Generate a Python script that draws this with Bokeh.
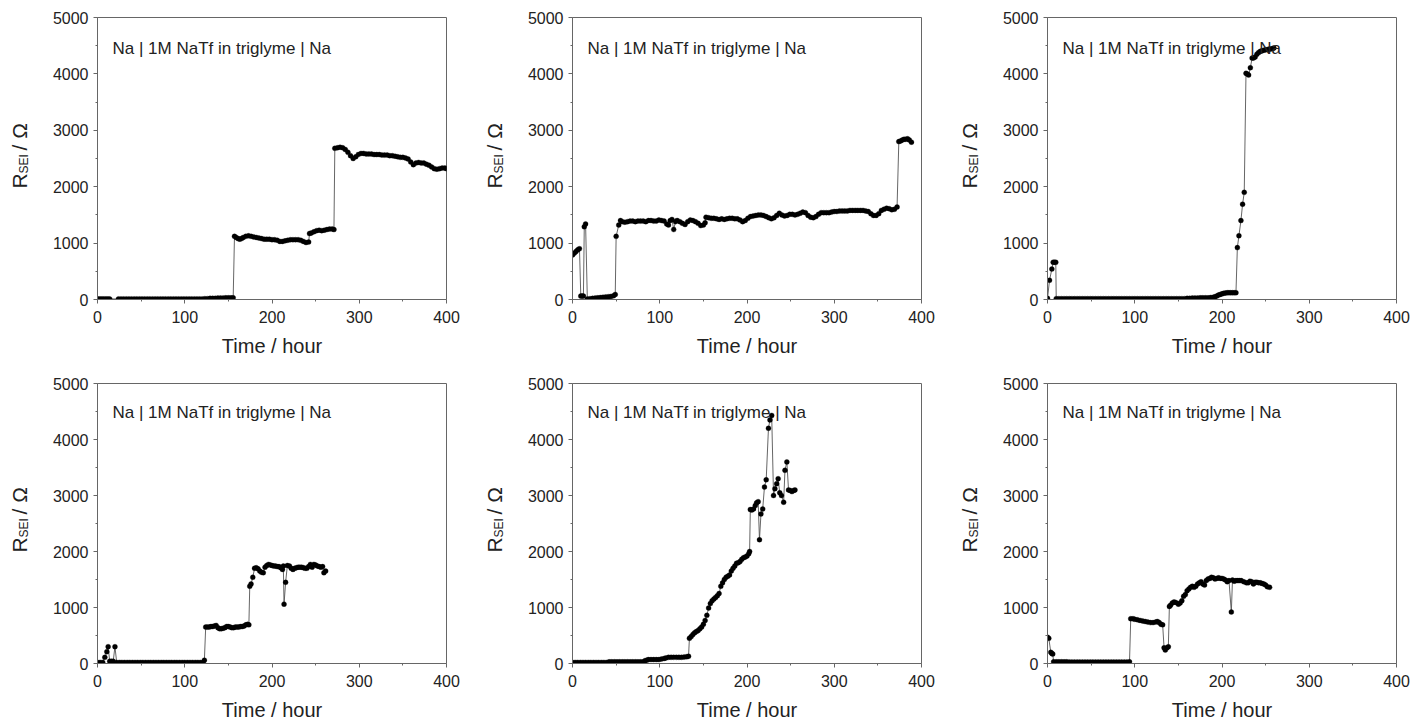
import math
from bokeh.plotting import figure
from bokeh.models import Range1d, Label, FixedTicker
from bokeh.layouts import row, column
from bokeh.embed import file_html
from bokeh.resources import INLINE

X_TICKS = [0, 100, 200, 300, 400]
X_MINOR = [50, 150, 250, 350]
Y_TICKS = [0, 1000, 2000, 3000, 4000, 5000]
Y_MINOR = [500, 1500, 2500, 3500, 4500]
ANNOT = "Na | 1M NaTf in triglyme | Na"
XLABEL = "Time / hour"
YLABEL_MAIN = "R"
YLABEL_SUB = "SEI"
YLABEL_UNIT = "/ Ω"

# (time / hour, R_SEI / ohm)
s1 = [(0,10),(2,10),(4,10),(6,10),(8,10),(10,10),(12,10),(14,10),
      (24,10),(27,10),(30,10),(33,10),(36,10),(39,10),(42,10),(45,10),(48,10),(51,10),(54,10),(57,10),
      (60,10),(63,10),(66,10),(69,10),(72,10),(75,10),(78,10),(81,10),(84,10),(87,10),(90,10),(93,10),
      (96,10),(99,10),(102,10),(105,10),(108,10),(111,10),(114,10),(117,10),(120,10),(123,15),(126,15),
      (129,20),(132,20),(135,20),(138,25),(141,25),(144,25),(147,30),(150,30),(153,30),(155.5,30),
      (157,1120),(159,1100),(161,1080),(163,1070),(165,1080),(167,1100),(170,1120),(173,1130),(176,1120),
      (179,1110),(182,1100),(185,1090),(188,1080),(191,1070),(194,1070),(197,1070),(200,1060),(203,1060),
      (206,1050),(209,1030),(212,1030),(215,1040),(218,1050),(221,1060),(224,1060),(227,1060),(230,1060),
      (233,1050),(236,1030),(239,1010),(242,1020),
      (243,1170),(245,1180),(248,1200),(251,1220),(254,1230),(257,1220),(260,1230),(263,1240),(266,1250),
      (269,1250),(271,1240),
      (272,2680),(275,2690),(278,2700),(281,2690),(284,2660),(287,2610),(290,2550),(293,2500),(296,2530),
      (299,2570),(302,2590),(305,2590),(308,2580),(311,2580),(314,2580),(317,2570),(320,2570),(323,2570),
      (326,2560),(329,2560),(332,2560),(335,2550),(338,2550),(341,2540),(344,2530),(347,2520),(350,2520),
      (353,2510),(356,2490),(359,2440),(362,2390),(365,2420),(368,2430),(371,2420),(374,2420),(377,2400),
      (380,2380),(383,2350),(386,2320),(389,2310),(392,2320),(395,2330),(398,2330),(400,2320)]

s2 = [(0,790),(2,820),(4,850),(6,880),(8,900),(9.5,60),(11,60),(12.5,60),(13.5,1290),(15,1340),
      (17,10),(20,15),(23,20),(26,25),(29,30),(32,35),(35,40),(38,45),(41,50),(44,55),(47,65),(49,90),
      (50,1120),(53,1320),(55,1400),(57,1380),(60,1370),(63,1380),(66,1390),(69,1390),(72,1380),(75,1390),
      (78,1390),(81,1390),(84,1380),(87,1400),(90,1400),(93,1390),(96,1390),(99,1410),(102,1400),(105,1390),
      (108,1340),(110,1320),(112,1400),(114,1420),(116,1240),(118,1380),(120,1400),(123,1380),(126,1350),
      (129,1330),(132,1380),(135,1410),(138,1400),(141,1380),(144,1350),(147,1310),(150,1320),(152,1360),
      (153,1460),(156,1450),(159,1440),(162,1440),(165,1430),(168,1420),(171,1430),(174,1420),(177,1430),
      (180,1440),(183,1440),(186,1430),(189,1430),(192,1410),(195,1380),(198,1400),(201,1440),(204,1470),
      (207,1480),(210,1490),(213,1500),(216,1500),(219,1490),(222,1470),(225,1450),(228,1430),(231,1450),
      (234,1490),(237,1530),(240,1500),(243,1480),(246,1490),(249,1510),(252,1510),(255,1500),(258,1510),
      (261,1530),(264,1550),(267,1540),(270,1490),(273,1460),(276,1450),(279,1470),(282,1510),(285,1540),
      (288,1540),(291,1540),(294,1540),(297,1550),(300,1560),(303,1560),(306,1570),(309,1570),(312,1570),
      (315,1570),(318,1580),(321,1580),(324,1580),(327,1580),(330,1580),(333,1580),(336,1570),(339,1560),
      (342,1520),(345,1490),(348,1490),(351,1520),(354,1580),(357,1600),(360,1620),(363,1610),(366,1590),
      (369,1600),(372,1640),
      (374,2800),(376,2810),(378,2830),(380,2840),(382,2840),(384,2850),(386,2830),(388.5,2790)]

s3 = [(0,20),(2.3,340),(5,540),(6.5,660),(8,660),(9.5,660),
      (10,15),(13,15),(16,15),(19,15),(22,15),(25,15),(28,15),(31,15),(34,15),(37,15),(40,15),(43,15),
      (46,15),(49,15),(52,15),(55,15),(58,15),(61,15),(64,15),(67,15),(70,15),(73,15),(76,15),(79,15),
      (82,15),(85,15),(88,15),(91,15),(94,15),(97,15),(100,15),(103,15),(106,15),(109,15),(112,15),(115,15),
      (118,15),(121,15),(124,15),(127,15),(130,15),(133,15),(136,15),(139,15),(142,15),(145,15),(148,15),
      (151,15),(154,15),(157,15),(160,20),(163,20),(166,25),(169,25),(172,25),(175,30),(178,30),(181,30),
      (184,30),(187,35),(190,40),
      (192,50),(194,60),(196,80),(198,90),(200,100),(202,110),(204,115),(206,120),(208,120),(210,120),
      (212,120),(214,120),(216,120),
      (217.6,920),(219.4,1130),(221.7,1400),(223.6,1690),(225.5,1900),
      (227.5,4010),(229,4000),(230.5,3980),(232.5,4110),(234.5,4280),(236,4280),(238,4300),(240,4350),
      (242,4380),(244,4400),(246,4410),(248,4420),(250,4430),(252,4430),(254,4440),(256,4440),(258,4450),
      (259.5,4460)]

s4 = [(0,20),(3,20),(6,20),(8.4,110),(10.7,210),(12.2,300),(14,40),(16,40),(18,40),(20,300),
      (22,20),(25,20),(28,20),(31,20),(34,20),(37,20),(40,20),(43,20),(46,20),(49,20),(52,20),(55,20),
      (58,20),(61,20),(64,20),(67,20),(70,20),(73,20),(76,20),(79,20),(82,20),(85,20),(88,20),(91,20),
      (94,20),(97,20),(100,20),(103,20),(106,20),(109,20),(112,20),(115,20),(118,20),(121,20),(122.5,60),
      (124,650),(126,650),(128,650),(130,660),(132,660),(134,670),(136,680),(138,640),(140,620),(142,620),
      (144,630),(146,640),(148,660),(150,660),(152,650),(154,640),(156,640),(158,650),(160,650),(162,650),
      (164,660),(166,660),(168,670),(170,690),(172,700),(173.5,690),
      (174.5,1380),(176,1420),(178,1540),(180,1700),(182,1710),(184,1690),(186,1650),(188,1630),(190,1620),
      (192,1720),(194,1750),(196,1770),(198,1760),(200,1750),(202,1740),(204,1740),(206,1730),(208,1730),
      (210,1710),(212,1680),(213,1740),(213.8,1060),(215.6,1450),(217.6,1750),(220,1740),(222,1700),
      (224,1680),(226,1700),(228,1710),(230,1720),(232,1720),(234,1720),(236,1710),(238,1700),(240,1700),
      (242,1730),(244,1770),(246,1720),(248,1770),(250,1760),(252,1740),(254,1730),(256,1720),(258,1730),
      (259.5,1620),(261.5,1650)]

s5 = [(0,20),(3,20),(6,20),(9,20),(12,20),(15,20),(18,20),(21,20),(24,20),(27,20),(30,20),(33,20),
      (36,20),(39,20),(42,30),(45,30),(48,30),(51,30),(54,30),(57,30),(60,30),(63,30),(66,30),(69,30),
      (72,30),(75,30),(78,30),(81,30),
      (83,50),(85,60),(87,70),(90,70),(93,70),(96,70),(99,70),(102,80),(105,90),(107,100),(110,110),
      (113,110),(116,110),(119,110),(122,110),(125,110),(128,115),(131,120),(133,130),
      (134,450),(136,480),(138,520),(140,550),(142,570),(144,590),(146,620),(148,650),(150,700),(152,770),
      (154,860),(156,990),(158,1070),(160,1120),(162,1150),(164,1180),(166,1210),(168,1250),(170,1380),
      (172,1440),(174,1500),(176,1540),(178,1560),(180,1580),(182,1650),(184,1700),(186,1740),(188,1790),
      (190,1800),(192,1820),(194,1860),(196,1890),(198,1900),(200,1920),(202,1960),(203,2000),
      (203.8,2750),(205.5,2740),(207.5,2760),(209.5,2820),(211,2870),(212.8,2890),(214.3,2210),(216,2670),
      (218,2760),(220,3150),(222,3280),(224.6,4200),(226.3,4350),(228.3,4430),(230.4,3000),(232,3120),
      (234,3210),(235.7,3300),(237.5,3050),(239.5,3000),(242,2880),(243.5,3450),(245.7,3600),(247.6,3100),
      (249.5,3090),(251.5,3070),(253.5,3090),(255,3100)]

s6 = [(0,470),(1.5,450),(3.8,200),(5,180),(6,170),
      (7,30),(10,30),(13,30),(16,30),(19,30),(22,30),(25,25),(28,25),(31,25),(34,25),(37,25),(40,25),
      (43,25),(46,25),(49,25),(52,25),(55,25),(58,25),(61,25),(64,25),(67,25),(70,25),(73,25),(76,25),
      (79,25),(82,25),(85,25),(88,25),(91,25),(94,30),
      (95.4,800),(98,800),(100,790),(103,780),(106,770),(109,760),(112,750),(115,740),(118,730),(121,730),
      (124,740),(126,750),(128,730),(130,700),(132,690),
      (133.6,280),(135,240),(137,280),(138.5,300),
      (139.7,1020),(141,1040),(143,1080),(145,1100),(147,1090),(150,1060),(152,1080),(154,1120),(156,1200),
      (158,1230),(160,1300),(162,1330),(164,1360),(166,1380),(168,1360),(170,1380),(172,1420),(174,1440),
      (176,1460),(178,1420),(180,1400),(182,1480),(184,1510),(186,1520),(188,1540),(190,1530),(192,1510),
      (194,1520),(196,1530),(198,1520),(200,1520),(202,1510),(204,1490),(206,1460),(208,1480),(210.7,920),
      (212,1490),(214,1470),(216,1480),(218,1480),(220,1480),(222,1480),(225,1460),(228,1440),(230,1440),
      (232,1470),(234,1460),(236,1420),(238,1450),(240,1450),(242,1440),(244,1440),(246,1430),(248,1420),
      (250,1400),(252,1370),(254.6,1360)]

SERIES = [s1, s2, s3, s4, s5, s6]

FONT = "Liberation Sans"
TXT = "#222222"
AXC = "#666666"
FW, FH = 349, 282
TW = 40                      # width of the strip holding each y-axis title
LEFT = 57
RIGHTS = [29, 29, 15]
TOPS = [17, 14]
BOTTOMS = [70, 58]


def title_strip(rw):
    h = TOPS[rw] + FH + BOTTOMS[rw]
    t = figure(width=TW, height=h, output_backend="svg", toolbar_location=None,
               x_range=Range1d(0, TW), y_range=Range1d(0, h),
               x_axis_location=None, y_axis_location=None,
               min_border=0, min_border_left=0, min_border_right=0,
               min_border_top=0, min_border_bottom=0)
    t.outline_line_color = None
    t.grid.visible = False
    t.background_fill_color = "white"
    t.border_fill_color = "white"
    rot = math.pi / 2
    t.add_layout(Label(x=18.5, y=111, x_units="screen", y_units="screen", text=YLABEL_MAIN,
                       angle=rot, text_font=FONT, text_font_size="21px", text_color=TXT,
                       text_baseline="alphabetic", text_align="left"))
    t.add_layout(Label(x=23, y=126, x_units="screen", y_units="screen", text=YLABEL_SUB,
                       angle=rot, text_font=FONT, text_font_size="12px", text_color=TXT,
                       text_baseline="alphabetic", text_align="left"))
    t.add_layout(Label(x=18.5, y=149, x_units="screen", y_units="screen", text=YLABEL_UNIT,
                       angle=rot, text_font=FONT, text_font_size="21px", text_color=TXT,
                       text_baseline="alphabetic", text_align="left"))
    return t


def make_panel(data, col, rw):
    right = RIGHTS[col]
    top, bottom = TOPS[rw], BOTTOMS[rw]
    p = figure(width=LEFT + FW + right, height=top + FH + bottom,
               output_backend="svg", toolbar_location=None,
               x_range=Range1d(0, 400), y_range=Range1d(0, 5000),
               min_border_left=LEFT, min_border_right=right,
               min_border_top=top, min_border_bottom=bottom)
    p.background_fill_color = "white"
    p.border_fill_color = "white"
    p.outline_line_color = AXC
    p.outline_line_width = 1
    p.xgrid.visible = False
    p.ygrid.visible = False

    for ax, ticks, minor in ((p.xaxis[0], X_TICKS, X_MINOR), (p.yaxis[0], Y_TICKS, Y_MINOR)):
        ax.ticker = FixedTicker(ticks=ticks, minor_ticks=minor)
        ax.axis_line_color = AXC
        ax.major_tick_line_color = AXC
        ax.minor_tick_line_color = AXC
        ax.major_tick_out = 4
        ax.major_tick_in = 0
        ax.minor_tick_out = 2
        ax.minor_tick_in = 0
        ax.major_label_text_font = FONT
        ax.major_label_text_font_size = "16px"
        ax.major_label_text_color = TXT
    p.yaxis[0].major_label_standoff = 5
    xa = p.xaxis[0]
    xa.major_label_standoff = 7
    xa.axis_label = XLABEL
    xa.axis_label_text_font = FONT
    xa.axis_label_text_font_size = "20px"
    xa.axis_label_text_font_style = "normal"
    xa.axis_label_text_color = TXT
    xa.axis_label_standoff = 9

    xs = [d[0] for d in data]
    ys = [d[1] for d in data]
    p.line(xs, ys, line_color="#555555", line_width=0.9)
    p.scatter(xs, ys, size=5, marker="circle", fill_color="black", line_color="black", line_width=0.3)

    p.add_layout(Label(x=15, y=251, x_units="screen", y_units="screen", text=ANNOT,
                       text_font=FONT, text_font_size="17px", text_color=TXT,
                       text_baseline="alphabetic", text_align="left"))
    return p


rows = []
for rw in range(2):
    items = []
    for col in range(3):
        items.append(title_strip(rw))
        items.append(make_panel(SERIES[rw * 3 + col], col, rw))
    rows.append(row(*items))
layout = column(*rows)

open("out.html", "w").write(file_html(layout, INLINE))
